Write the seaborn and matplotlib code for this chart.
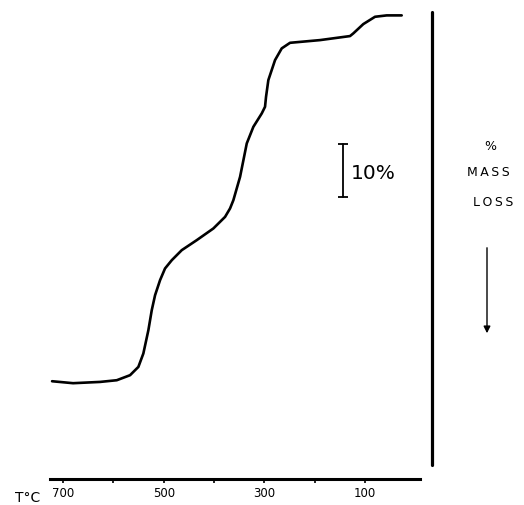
import numpy as np
import pandas as pd
import matplotlib
matplotlib.use("Agg")
import matplotlib.pyplot as plt
import seaborn as sns

# ==============================
# DATOS
# ==============================
temp_c = [721.9, 680.1, 626.5, 593.3, 566.9, 550.4, 540.5, 530.5, 523.8,
          517.2, 507.3, 497.4, 484.0, 464.2, 434.4, 401.4, 378.1, 368.2,
          361.6, 348.3, 335.0, 321.9, 305.2, 298.7, 296.7, 292.1, 278.8,
          265.5, 249.0, 189.4, 129.8, 123.2, 103.4, 80.1, 56.9, 27.1]
mass_loss = [69.06, 69.43, 69.19, 68.87, 67.92, 66.36, 63.83, 59.43, 55.66,
             52.83, 50.0, 47.79, 46.23, 44.34, 42.45, 40.25, 38.06, 36.47,
             34.91, 30.51, 24.21, 21.08, 18.55, 17.30, 15.42, 12.26, 8.49,
             6.28, 5.23, 4.72, 3.96, 3.45, 1.70, 0.32, 0.06, 0.06]
major_ticks = [700, 500, 300, 100]
minor_ticks = [600, 400, 200]

df = pd.DataFrame({"T": temp_c, "loss": mass_loss})

# ==============================
# CONFIGURACION VISUAL
# ==============================
sns.set_theme(style="white")
plt.rcParams["font.family"] = ["DejaVu Sans"]
plt.rcParams["text.color"] = "black"
plt.rcParams["xtick.color"] = "black"

fig = plt.figure(figsize=(5.24, 5.05), dpi=100)
ax = fig.add_axes([50 / 524, 26 / 505, 390 / 524, 474 / 505])

sns.lineplot(data=df, x="T", y="loss", color="black", linewidth=1.9,
             sort=False, ax=ax, solid_joinstyle="round",
             solid_capstyle="round")

ax.set_xlim(726, -49)
ax.set_ylim(87.5, -1.9)

for s in ["top", "right", "left"]:
    ax.spines[s].set_visible(False)
ax.spines["bottom"].set_bounds(726, -9)
ax.spines["bottom"].set_linewidth(2.2)
ax.spines["bottom"].set_color("black")

ax.set_xticks(major_ticks)
ax.set_xticklabels([str(t) for t in major_ticks], fontsize=8.5)
ax.set_xticks(minor_ticks, minor=True)
ax.tick_params(axis="x", which="both", direction="out", length=3, width=1.2,
               color="black", labelcolor="black", pad=3, bottom=True)
ax.set_yticks([])
ax.set_xlabel("")
ax.set_ylabel("")

# linea vertical derecha
ax.plot([-33, -33], [-0.6, 84.9], color="black", linewidth=2.3,
        clip_on=False)

# barra de escala 10%
ax.plot([144, 144], [24.3, 34.3], color="black", linewidth=1.3)
ax.plot([144, 144], [24.3, 34.3], color="black", linestyle="none",
        marker="_", markersize=7, markeredgewidth=1.3)
ax.text(128, 29.8, "10%", fontsize=14.5, va="center", ha="left",
        color="black")

# etiquetas
fig.text(15 / 524, 1 - 498 / 505, "T°C", fontsize=10, va="center", ha="left",
         color="black")
fig.text(490 / 524, 1 - 146 / 505, "%", fontsize=9, va="center", ha="center",
         color="black")
fig.text(488 / 524, 1 - 172 / 505, "M\u2009A\u2009S\u2009S", fontsize=9,
         va="center", ha="center", color="black")
fig.text(493 / 524, 1 - 202 / 505, "L\u2009O\u2009S\u2009S", fontsize=9,
         va="center", ha="center", color="black")
fig.add_artist(matplotlib.patches.FancyArrowPatch(
    (487 / 524, 1 - 245 / 505), (487 / 524, 1 - 336 / 505),
    transform=fig.transFigure, arrowstyle="-|>", mutation_scale=10,
    color="black", linewidth=1.0))

plt.savefig("out.png", dpi=100)
